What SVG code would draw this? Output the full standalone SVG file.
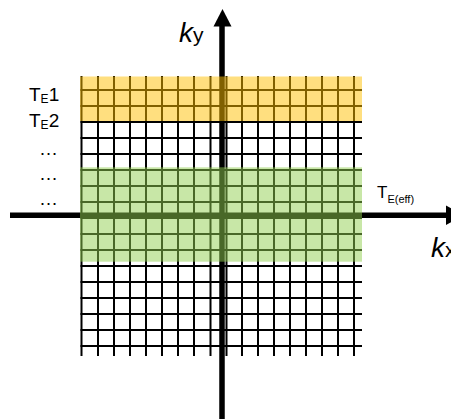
<svg xmlns="http://www.w3.org/2000/svg" width="451" height="419" viewBox="0 0 451 419">
  <style>
    .grid line { stroke: #000; stroke-width: 2; }
    .axis { stroke: #000; stroke-width: 5.5; fill: none; }
    .head { fill: #000; }
    text { font-family: "Liberation Sans", Arial, Helvetica, sans-serif; fill: #000; }
    .k { font-style: italic; font-size: 28px; }
    .sub { font-size: 21px; font-style: normal; }
    .lbl { font-size: 19px; }
  </style>
  <rect width="451" height="419" fill="#fff"/>
  <g id="grid" class="grid">
    <line x1="81.5" y1="76" x2="81.5" y2="356"/>
    <line x1="98" y1="76" x2="98" y2="356"/>
    <line x1="114" y1="76" x2="114" y2="356"/>
    <line x1="130" y1="76" x2="130" y2="356"/>
    <line x1="146" y1="76" x2="146" y2="356"/>
    <line x1="162" y1="76" x2="162" y2="356"/>
    <line x1="178" y1="76" x2="178" y2="356"/>
    <line x1="194" y1="76" x2="194" y2="356"/>
    <line x1="210.5" y1="76" x2="210.5" y2="356"/>
    <line x1="226.5" y1="76" x2="226.5" y2="356"/>
    <line x1="242" y1="76" x2="242" y2="356"/>
    <line x1="258" y1="76" x2="258" y2="356"/>
    <line x1="274" y1="76" x2="274" y2="356"/>
    <line x1="290" y1="76" x2="290" y2="356"/>
    <line x1="306" y1="76" x2="306" y2="356"/>
    <line x1="322" y1="76" x2="322" y2="356"/>
    <line x1="338" y1="76" x2="338" y2="356"/>
    <line x1="354" y1="76" x2="354" y2="356"/>
    <line x1="80.5" y1="90" x2="362" y2="90"/>
    <line x1="80.5" y1="106" x2="362" y2="106"/>
    <line x1="80.5" y1="122" x2="362" y2="122"/>
    <line x1="80.5" y1="138" x2="362" y2="138"/>
    <line x1="80.5" y1="154" x2="362" y2="154"/>
    <line x1="80.5" y1="170" x2="362" y2="170"/>
    <line x1="80.5" y1="186" x2="362" y2="186"/>
    <line x1="80.5" y1="202" x2="362" y2="202"/>
    <line x1="80.5" y1="218" x2="362" y2="218"/>
    <line x1="80.5" y1="234" x2="362" y2="234"/>
    <line x1="80.5" y1="250" x2="362" y2="250"/>
    <line x1="80.5" y1="266" x2="362" y2="266"/>
    <line x1="80.5" y1="282" x2="362" y2="282"/>
    <line x1="80.5" y1="298" x2="362" y2="298"/>
    <line x1="80.5" y1="314" x2="362" y2="314"/>
    <line x1="80.5" y1="330" x2="362" y2="330"/>
    <line x1="80.5" y1="346" x2="362" y2="346"/>
  </g>
  <g id="axes">
    <line class="axis" x1="222" y1="25" x2="222" y2="419"/>
    <polygon class="head" points="222.5,9 213.5,26.5 231.5,26.5"/>
    <line class="axis" x1="10" y1="215.3" x2="447" y2="215.3"/>
    <polygon class="head" points="446,205.5 446,225 464,215.3"/>
  </g>
  <g id="bands">
    <rect id="band-te" x="80" y="76.5" width="282" height="44.5" fill="#FFC000" fill-opacity="0.5"/>
    <rect id="band-eff" x="80" y="167.3" width="282" height="94.4" fill="#92D050" fill-opacity="0.5"/>
  </g>
  <g id="labels">
    <text id="ky" x="179" y="42"><tspan class="k">k</tspan><tspan class="sub">y</tspan></text>
    <text id="kx" x="431" y="257"><tspan class="k">k</tspan><tspan class="sub">x</tspan></text>
    <text id="te1" class="lbl" x="29" y="101">T<tspan font-size="12" dy="2">E</tspan><tspan dy="-2">1</tspan></text>
    <text id="te2" class="lbl" x="29" y="127">T<tspan font-size="12" dy="2">E</tspan><tspan dy="-2">2</tspan></text>
    <text class="lbl" x="39" y="155">…</text>
    <text class="lbl" x="39" y="180">…</text>
    <text class="lbl" x="39" y="205">…</text>
    <text id="teff" x="377" y="198" font-size="17">T<tspan font-size="11" dy="5">E(eff)</tspan></text>
  </g>
</svg>
